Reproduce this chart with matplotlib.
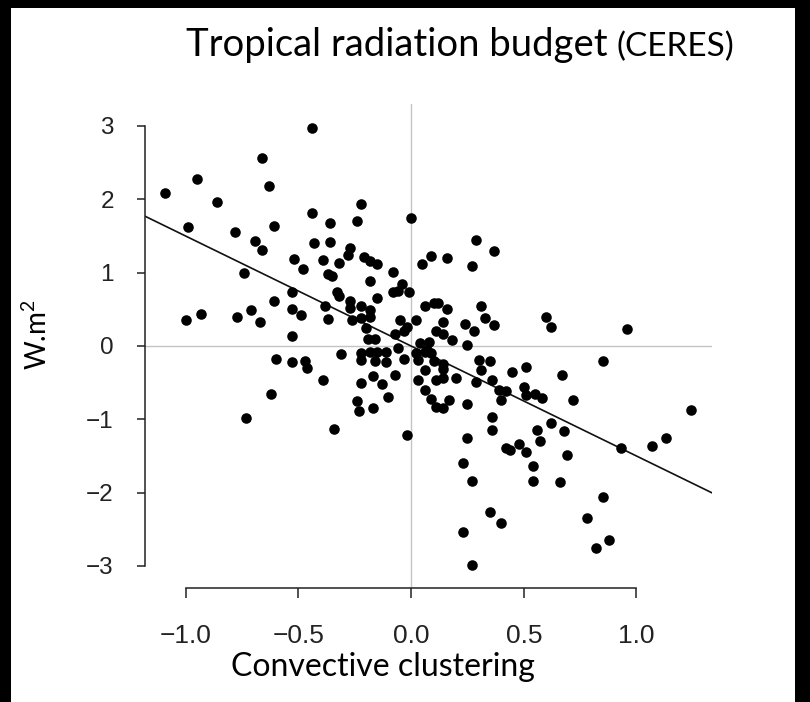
import numpy as np
import matplotlib.pyplot as plt
from matplotlib.patches import Rectangle

plt.rcParams['mathtext.default'] = 'regular'

# clustering index (x) vs radiation anomaly (y)
clustering = [
    -0.44, -0.66, -0.95, -1.09, -0.63, -0.86, -0.22, -0.44, -0.24, -0.36,
    0.00, -0.99, -0.61, -0.78, -0.69, -0.66, -0.43, -0.36, -0.27, -0.28,
    -0.52, -0.48, -0.39, -0.32, -0.21, -0.18, -0.15, -0.08, -0.74, -0.37,
    -0.35, -0.18, -0.04, -0.33, -0.32, -0.53, -0.61, -0.27, -0.15, -0.08,
    -0.06, -0.01, -1.00, -0.93, -0.77, -0.71, -0.67, -0.53, -0.49, -0.38,
    -0.37, -0.27, -0.22, -0.18, -0.26, -0.22, -0.18, -0.05, -0.02, -0.53,
    -0.20, -0.19, -0.16, -0.07, -0.03,
    0.05, 0.09, 0.29, 0.37, 0.16, 0.27, 0.06, 0.10, 0.12, 0.16,
    0.31, 0.02, 0.14, 0.24, 0.33, 0.37, 0.28, 0.60, 0.62, 0.96,
    0.11, 0.14, 0.18, 0.25, 0.04, 0.08,
    0.02, 0.06, 0.09, 0.03, 0.10, 0.14, 0.06, 0.14, 0.30, 0.35,
    0.31, 0.45, 0.51, 0.03, 0.11, 0.14, 0.20, 0.29, 0.36, 0.39,
    0.42, 0.50, 0.06, 0.09, 0.11, 0.14, 0.17, 0.40, 0.51, 0.25,
    0.36, 0.85, 0.67, 0.55, 0.58, 0.72, 1.24, 0.36, 0.62, 0.68,
    0.56, 0.57, 0.25, 0.42, 0.44, 0.48, 0.51, 0.93, 1.07, 1.13,
    0.23, 0.69, 0.54, 0.54, 0.66, 0.27, 0.85, 0.35, 0.40, 0.78,
    0.23, 0.88, 0.82, 0.27,
    -0.31, -0.22, -0.18, -0.15, -0.11, -0.06, -0.22, -0.16, -0.11, -0.03,
    -0.47, -0.46, -0.39, -0.22, -0.17, -0.13, -0.07, -0.10, -0.24, -0.23,
    -0.17, -0.60, -0.53, -0.62, -0.73, -0.34, -0.02, 0.07,
]
radiation = [
    2.97, 2.56, 2.28, 2.09, 2.18, 1.97, 1.94, 1.81, 1.70, 1.68,
    1.75, 1.62, 1.63, 1.55, 1.43, 1.31, 1.40, 1.42, 1.33, 1.24,
    1.18, 1.05, 1.17, 1.13, 1.21, 1.16, 1.12, 1.01, 1.00, 0.98,
    0.95, 0.88, 0.85, 0.73, 0.68, 0.73, 0.62, 0.61, 0.65, 0.74,
    0.75, 0.73, 0.35, 0.44, 0.40, 0.49, 0.33, 0.50, 0.42, 0.54,
    0.37, 0.52, 0.54, 0.49, 0.35, 0.38, 0.40, 0.36, 0.26, 0.13,
    0.24, 0.10, 0.09, 0.17, 0.20,
    1.12, 1.23, 1.44, 1.30, 1.20, 1.09, 0.55, 0.59, 0.58, 0.50,
    0.54, 0.36, 0.33, 0.30, 0.38, 0.29, 0.21, 0.40, 0.26, 0.23,
    0.20, 0.16, 0.08, 0.01, 0.04, 0.05,
    -0.10, -0.08, -0.10, -0.19, -0.21, -0.24, -0.33, -0.32, -0.19, -0.21,
    -0.33, -0.35, -0.28, -0.46, -0.47, -0.43, -0.44, -0.49, -0.47, -0.60,
    -0.61, -0.56, -0.60, -0.72, -0.83, -0.85, -0.74, -0.74, -0.67, -0.79,
    -0.97, -0.21, -0.40, -0.65, -0.71, -0.74, -0.87, -1.15, -1.05, -1.16,
    -1.15, -1.29, -1.26, -1.39, -1.42, -1.33, -1.45, -1.39, -1.36, -1.25,
    -1.60, -1.48, -1.63, -1.84, -1.86, -1.84, -2.06, -2.27, -2.41, -2.35,
    -2.53, -2.64, -2.75, -2.98,
    -0.11, -0.10, -0.08, -0.08, -0.08, -0.03, -0.19, -0.20, -0.22, -0.18,
    -0.21, -0.30, -0.46, -0.51, -0.41, -0.52, -0.40, -0.69, -0.75, -0.88,
    -0.85, -0.18, -0.22, -0.66, -0.98, -1.13, -1.21, -0.05,
]

# regression line as it appears on the chart
fit_intercept = 0.0
fit_slope = -1.5

x_ticks = [-1.0, -0.5, 0.0, 0.5, 1.0]
x_tick_labels = ['\u22121.0', '\u22120.5', '0.0', '0.5', '1.0']
y_ticks = [-3, -2, -1, 0, 1, 2, 3]
y_tick_labels = ['\u22123', '\u22122', '\u22121', '0', '1', '2', '3']

W, H = 810, 702
fig = plt.figure(figsize=(W / 100, H / 100), dpi=100)
fig.patch.set_facecolor('black')
fig.add_artist(Rectangle((11 / W, 0), (795 - 11) / W, 1 - 8 / H,
                         transform=fig.transFigure, facecolor='white',
                         edgecolor='none', zorder=-5))

ax = fig.add_axes([145 / W, 1 - 588 / H, (712 - 145) / W, (588 - 104) / H])
ax.set_xlim(-1.18, 1.335)
ax.set_ylim(-3.3, 3.3)
ax.patch.set_visible(False)

ax.axhline(0, color='#c4c4c4', lw=1.0, zorder=1)
ax.axvline(0, color='#c4c4c4', lw=1.0, zorder=1)
ax.axline((0, fit_intercept), slope=fit_slope, color='#111111', lw=1.2, zorder=2)
ax.plot(clustering, radiation, 'o', color='black', ms=7.6, mew=0, zorder=3)

for s in ['top', 'right']:
    ax.spines[s].set_visible(False)
ax.spines['left'].set_bounds(-3, 3)
ax.spines['bottom'].set_bounds(-1, 1)
for s in ['left', 'bottom']:
    ax.spines[s].set_linewidth(1.1)
    ax.spines[s].set_color('#222222')

ax.set_xticks(x_ticks)
ax.set_xticklabels(x_tick_labels, family='Liberation Sans', color='#222222')
ax.set_yticks(y_ticks)
ax.set_yticklabels(y_tick_labels, family='Liberation Sans', color='#222222')
ax.tick_params(axis='x', length=7, width=1.1, pad=19, labelsize=19, color='#222222')
ax.tick_params(axis='y', length=5.5, width=1.1, pad=17, labelsize=17.5, color='#222222')

# tytul + etykiety
t1 = fig.text(186 / W, 1 - 56 / H, 'Tropical radiation budget', fontsize=27.5,
              family='Lato', va='baseline', ha='left')
fig.canvas.draw()
bb = t1.get_window_extent()
fig.text((bb.x1 + 9) / W, 1 - 56 / H, '(CERES)', fontsize=24,
         family='Lato', va='baseline', ha='left')

fig.text(383 / W, 1 - 676 / H, 'Convective clustering', fontsize=23,
         family='Lato', va='baseline', ha='center')
fig.text(37 / W, 1 - 335 / H, 'W.m$^2$', fontsize=20, family='Lato',
         rotation=90, va='center', ha='center')

plt.savefig('out.png', dpi=100, facecolor=fig.get_facecolor())
